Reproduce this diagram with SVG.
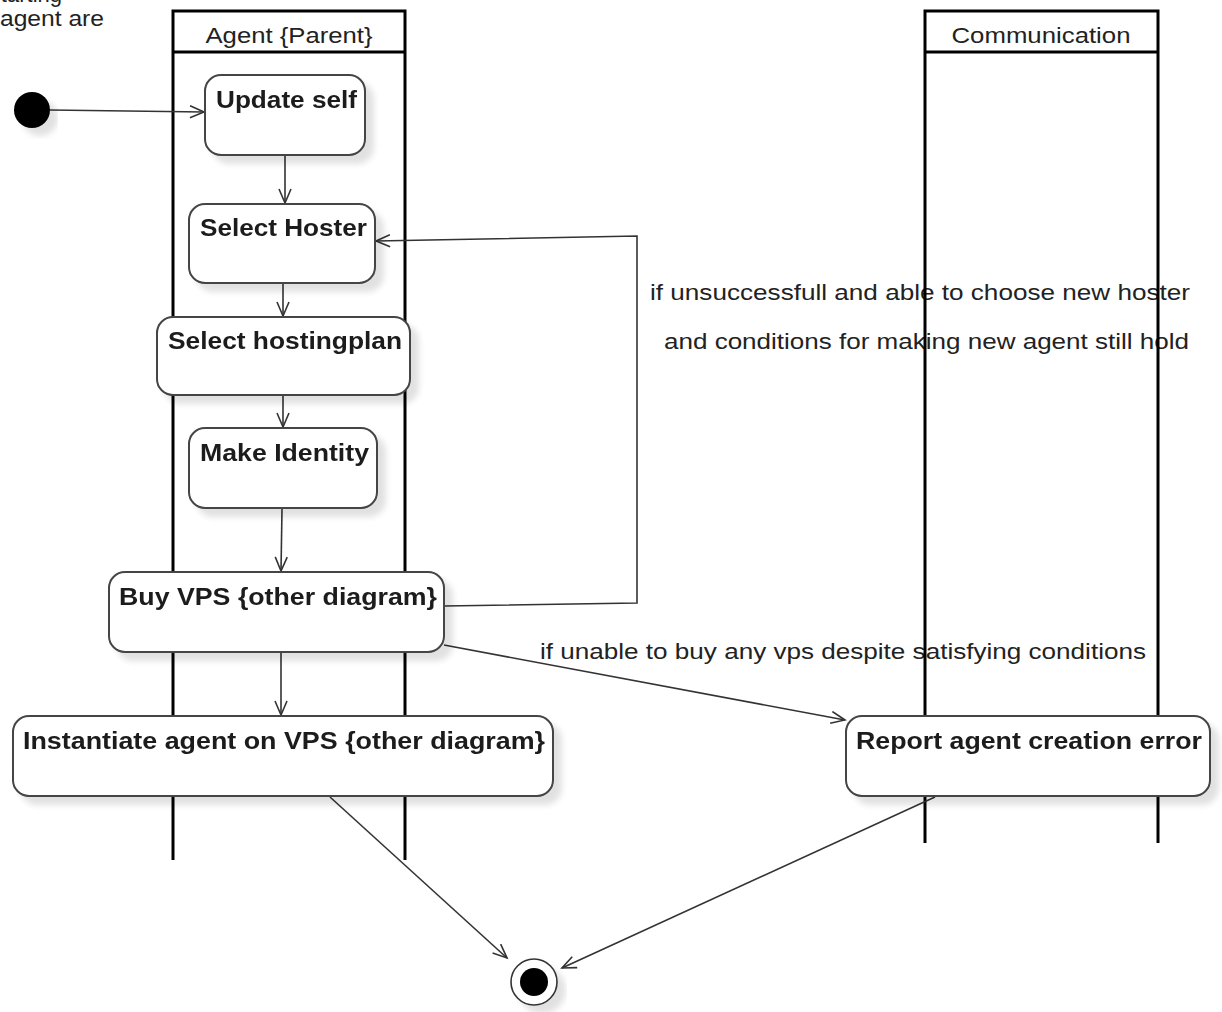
<svg xmlns="http://www.w3.org/2000/svg" width="1222" height="1012" viewBox="0 0 1222 1012">
<style>
  .lane { fill: none; stroke: #000; stroke-width: 3; }
  .hdr { font-family: "Liberation Sans", Arial, sans-serif; font-size: 22px; fill: #222; text-anchor: middle; }
  .act rect { fill: #fff; stroke: #444; stroke-width: 2; }
  .act text { font-family: "Liberation Sans", Arial, sans-serif; font-size: 23px; font-weight: bold; fill: #1a1a1a; }
  .lbl { font-family: "Liberation Sans", Arial, sans-serif; font-size: 22px; fill: #222; }
  .conn path, .conn line, .conn polyline { fill: none; stroke: #333; stroke-width: 1.6; }
</style>
<defs>
  <marker id="open" markerWidth="18" markerHeight="14" refX="15" refY="7" orient="auto" markerUnits="userSpaceOnUse">
    <path d="M1,1 L15,7 L1,13" fill="none" stroke="#333" stroke-width="1.6"/>
  </marker>
  <filter id="sh" x="-10%" y="-10%" width="130%" height="140%">
    <feGaussianBlur in="SourceAlpha" stdDeviation="3"/>
    <feOffset dx="8" dy="8" result="b"/>
    <feComponentTransfer><feFuncA type="linear" slope="0.12"/></feComponentTransfer>
    <feMerge><feMergeNode/><feMergeNode in="SourceGraphic"/></feMerge>
  </filter>
</defs>
<rect width="1222" height="1012" fill="#fff"/>

<g id="note">
  <text class="lbl" x="62" y="2" text-anchor="end">starting</text>
  <text class="lbl" x="0" y="26" textLength="104" lengthAdjust="spacingAndGlyphs">agent are</text>
</g>

<g id="labels">
  <text class="lbl" x="650" y="300" textLength="540" lengthAdjust="spacingAndGlyphs">if unsuccessfull and able to choose new hoster</text>
  <text class="lbl" x="664" y="349" textLength="525" lengthAdjust="spacingAndGlyphs">and conditions for making new agent still hold</text>
  <text class="lbl" x="540" y="659" textLength="606" lengthAdjust="spacingAndGlyphs">if unable to buy any vps despite satisfying conditions</text>
</g>

<g id="lane-agent">
  <path class="lane" d="M173,860 V11 H405 V860 M173,52 H405"/>
  <text class="hdr" x="289" y="43" textLength="167" lengthAdjust="spacingAndGlyphs">Agent {Parent}</text>
</g>
<g id="lane-communication">
  <path class="lane" d="M925,843 V11 H1158 V843 M925,52 H1158"/>
  <text class="hdr" x="1041" y="43" textLength="179" lengthAdjust="spacingAndGlyphs">Communication</text>
</g>

<g class="conn" id="connectors">
  <line x1="50" y1="110" x2="204" y2="112" marker-end="url(#open)"/>
  <line x1="285" y1="156" x2="285" y2="203" marker-end="url(#open)"/>
  <line x1="283" y1="284" x2="283" y2="316" marker-end="url(#open)"/>
  <line x1="283" y1="396" x2="283" y2="427" marker-end="url(#open)"/>
  <line x1="282" y1="509" x2="281" y2="571" marker-end="url(#open)"/>
  <line x1="281" y1="653" x2="281" y2="715" marker-end="url(#open)"/>
  <polyline points="444,606 637,603 637,236 376,241" marker-end="url(#open)"/>
  <line x1="444" y1="645" x2="845" y2="720" marker-end="url(#open)"/>
  <line x1="330" y1="797" x2="507" y2="958" marker-end="url(#open)"/>
  <line x1="935" y1="797" x2="562" y2="968" marker-end="url(#open)"/>
</g>

<g id="initial" filter="url(#sh)">
  <circle cx="32" cy="110" r="18" fill="#000"/>
</g>

<g id="update-self" class="act" filter="url(#sh)">
  <rect x="205" y="75" width="160" height="80" rx="16"/>
  <text x="216" y="108" textLength="141" lengthAdjust="spacingAndGlyphs">Update self</text>
</g>
<g id="select-hoster" class="act" filter="url(#sh)">
  <rect x="189" y="204" width="186" height="79" rx="16"/>
  <text x="200" y="236" textLength="167" lengthAdjust="spacingAndGlyphs">Select Hoster</text>
</g>
<g id="select-hostingplan" class="act" filter="url(#sh)">
  <rect x="157" y="317" width="253" height="78" rx="16"/>
  <text x="168" y="349" textLength="234" lengthAdjust="spacingAndGlyphs">Select hostingplan</text>
</g>
<g id="make-identity" class="act" filter="url(#sh)">
  <rect x="189" y="428" width="188" height="80" rx="16"/>
  <text x="200" y="461" textLength="169" lengthAdjust="spacingAndGlyphs">Make Identity</text>
</g>
<g id="buy-vps" class="act" filter="url(#sh)">
  <rect x="109" y="572" width="335" height="80" rx="16"/>
  <text x="119" y="605" textLength="318" lengthAdjust="spacingAndGlyphs">Buy VPS {other diagram}</text>
</g>
<g id="instantiate" class="act" filter="url(#sh)">
  <rect x="13" y="716" width="540" height="80" rx="16"/>
  <text x="23" y="749" textLength="522" lengthAdjust="spacingAndGlyphs">Instantiate agent on VPS {other diagram}</text>
</g>
<g id="report-error" class="act" filter="url(#sh)">
  <rect x="846" y="716" width="364" height="80" rx="16"/>
  <text x="856" y="749" textLength="346" lengthAdjust="spacingAndGlyphs">Report agent creation error</text>
</g>

<g id="final" filter="url(#sh)">
  <circle cx="534" cy="982" r="23" fill="#fff" stroke="#333" stroke-width="1.6"/>
  <circle cx="534" cy="982" r="14" fill="#000"/>
</g>
</svg>
